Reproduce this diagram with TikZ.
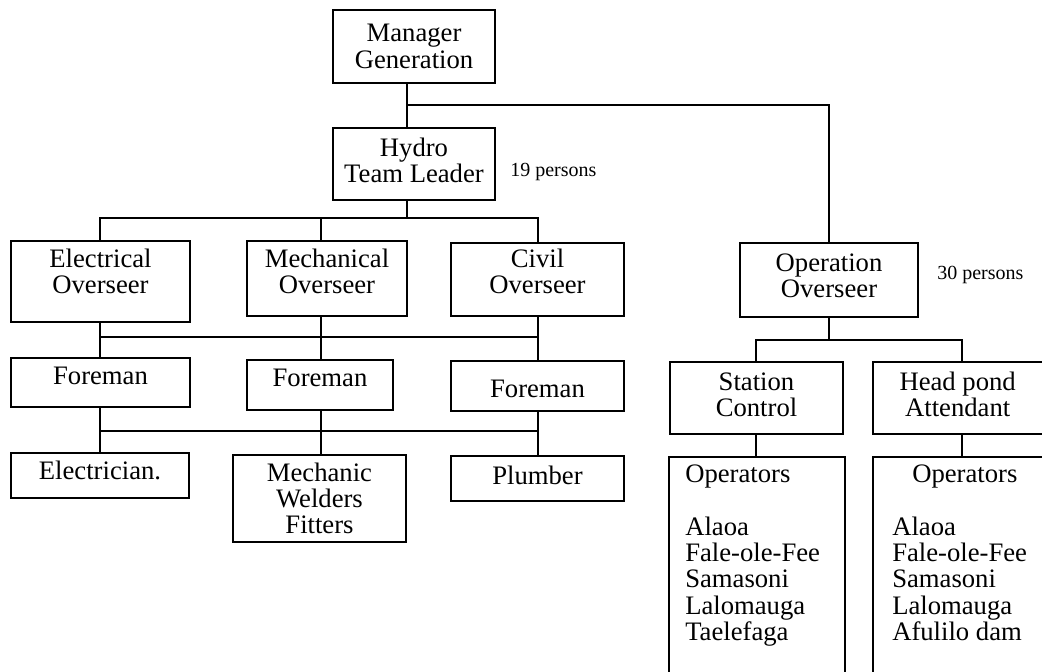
\documentclass[tikz,border=0pt]{standalone}
\usepackage{fontspec}
\setmainfont{Liberation Serif}
\begin{document}
\begin{tikzpicture}[x=0.75pt,y=-0.75pt,
  sz/.style 2 args={minimum width=#1*0.75pt, minimum height=#2*0.75pt},
  box/.style={draw, line width=1.4pt, inner sep=0pt},
  lbl/.style={inner sep=0pt, align=center, font=\fontsize{20pt}{19.7pt}\selectfont},
  txt/.style={inner sep=0pt, align=left, font=\fontsize{20pt}{19.7pt}\selectfont},
  note/.style={inner sep=0pt, font=\fontsize{15pt}{18pt}\selectfont},
  conn/.style={line width=1.3pt}]
\useasboundingbox (0,0) rectangle (1042,671);
\clip (0,0) rectangle (1042,671);
% boxes
\node[box, sz={162}{73}, label={[lbl]center:{Manager\\Generation}}] (mgr) at (414,46.5) {};
\node[box, sz={162}{72}, label={[lbl, yshift=2.5pt]center:{Hydro\\Team Leader}}] (hydro) at (414,164) {};
\node[note, anchor=base west] (p19) at (510,176) {19 persons};
\node[box, sz={179}{81}, label={[lbl, yshift=7.5pt]center:{Electrical\\Overseer}}] (elecO) at (100.5,281.5) {};
\node[box, sz={160}{75}, label={[lbl, yshift=5.2pt]center:{Mechanical\\Overseer}}] (mechO) at (327,278.5) {};
\node[box, sz={173}{73}, label={[lbl, yshift=6.2pt]center:{Civil\\Overseer}}] (civO) at (537.5,279.5) {};
\node[box, sz={178}{74}, label={[lbl, yshift=3pt]center:{Operation\\Overseer}}] (opO) at (829,280) {};
\node[note, anchor=base west] (p30) at (937,279) {30 persons};
\node[box, sz={179}{49}, label={[lbl, yshift=5pt]center:Foreman}] (elecF) at (100.5,382.5) {};
\node[box, sz={146}{50}, label={[lbl, yshift=5.2pt]center:Foreman}] (mechF) at (320,385) {};
\node[box, sz={173}{50}, label={[lbl, yshift=-2.25pt]center:Foreman}] (civF) at (537.5,386) {};
\node[box, sz={173}{72}, label={[lbl, yshift=2.5pt]center:{Station\\Control}}] (stat) at (756.5,398) {};
\node[box, sz={172}{72}, label={[lbl, yshift=2.5pt, xshift=-1pt]center:{Head pond\\Attendant}}] (head) at (959,398) {};
\node[box, sz={178}{45}, label={[lbl, yshift=3.5pt]center:{Electrician.}}] (elecW) at (100,475.5) {};
\node[box, sz={173}{87}, label={[lbl]center:{Mechanic\\Welders\\Fitters}}] (mechW) at (319.5,498.5) {};
\node[box, sz={173}{45}, label={[lbl, yshift=2.5pt]center:Plumber}] (civW) at (537.5,478.5) {};
\node[box, sz={176}{233}] (opsS) at (757,573.5) {};
\node[box, sz={172}{233}] (opsH) at (959,573.5) {};
\node[txt, anchor=north west] (opsSt) at (685,465)
  {Operators\\[19.7pt]Alaoa\\Fale-ole-Fee\\Samasoni\\Lalomauga\\Taelefaga};
\node[txt, anchor=north west] (opsHt) at (892,465)
  {\hspace*{15pt}Operators\\[19.7pt]Alaoa\\Fale-ole-Fee\\Samasoni\\Lalomauga\\Afulilo dam};
% connector positions
\coordinate (xH) at (407,0);
\coordinate (xE) at (100,0);
\coordinate (xM) at (321,0);
\coordinate (xC) at (538,0);
\coordinate (xS) at (756,0);
\coordinate (xP) at (962,0);
\coordinate (y0) at (0,105);
\coordinate (y1) at (0,218);
\coordinate (y2) at (0,337);
\coordinate (y3) at (0,431);
\coordinate (y4) at (0,340);
% connectors
\draw[conn] (xH |- mgr.south) -- (xH |- hydro.north);
\draw[conn] (xH |- y0) -| (opO.north);
\draw[conn] (xH |- hydro.south) -- (xH |- y1);
\draw[conn] (xE |- elecO.north) |- (xC |- y1) -- (xC |- civO.north);
\draw[conn] (xM |- y1) -- (xM |- mechO.north);
\draw[conn] (xE |- elecO.south) -- (xE |- elecF.north);
\draw[conn] (xM |- mechO.south) -- (xM |- mechF.north);
\draw[conn] (xC |- civO.south) -- (xC |- civF.north);
\draw[conn] (xE |- y2) -- (xC |- y2);
\draw[conn] (xE |- elecF.south) -- (xE |- elecW.north);
\draw[conn] (xM |- mechF.south) -- (xM |- mechW.north);
\draw[conn] (xC |- civF.south) -- (xC |- civW.north);
\draw[conn] (xE |- y3) -- (xC |- y3);
\draw[conn] (opO.south) -- (opO.south |- y4);
\draw[conn] (xS |- stat.north) |- (xP |- y4) -- (xP |- head.north);
\draw[conn] (xS |- stat.south) -- (xS |- opsS.north);
\draw[conn] (xP |- head.south) -- (xP |- opsH.north);
\end{tikzpicture}
\end{document}
